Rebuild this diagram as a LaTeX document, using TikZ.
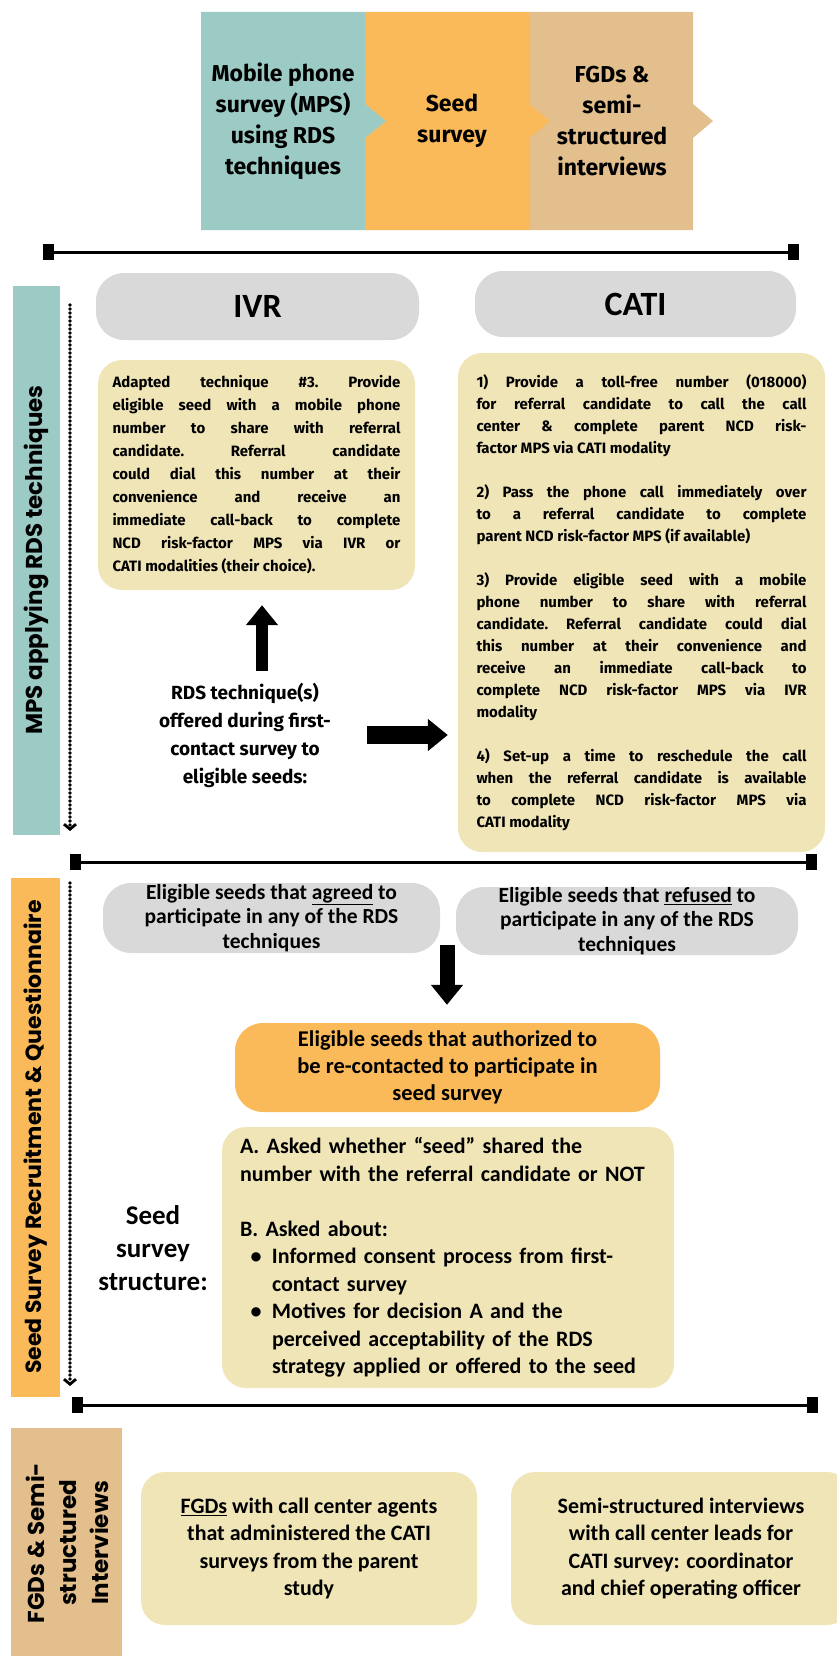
\documentclass[tikz,border=0pt]{standalone}
\usepackage{fontspec}
\setmainfont{Fira Sans}
\newfontfamily\condfont{Carlito}
\newfontfamily\barfont{Poppins}
\usetikzlibrary{arrows.meta}
\definecolor{mpsteal}{RGB}{155,203,196}
\definecolor{seedorange}{RGB}{251,186,90}
\definecolor{fgdtan}{RGB}{226,191,140}
\definecolor{boxyellow}{RGB}{239,229,183}
\definecolor{pillgray}{RGB}{217,217,217}
\newcommand\justblock[3]{\parbox{#1}{\bfseries\fontsize{15}{#2}\selectfont\frenchspacing\tolerance=10000 \hyphenpenalty=10000 #3}}
\begin{document}
\begin{tikzpicture}[x=1pt,y=-1pt,line join=round,
	pill/.style={fill=pillgray,rounded corners=28pt,inner sep=0pt,align=center,font=\condfont\bfseries\fontsize{21.5}{24.5}\selectfont},
	ybox/.style={fill=boxyellow,rounded corners=24pt,inner sep=0pt},
	ctext/.style={font=\condfont\bfseries\fontsize{22}{27.5}\selectfont},
	bartxt/.style={rotate=90,align=center,font=\barfont\bfseries\fontsize{#1}{32}\selectfont},
	sep/.style={line width=3pt,{Square[length=11pt,width=16pt]}-{Square[length=11pt,width=16pt]}},
	dotarr/.style={line width=3.8pt,line cap=round,dash pattern=on 0pt off 4pt,-{Straight Barb[length=5pt,width=12pt,line width=2.8pt]}},
	blkarr/.style={line width=#1,-{Triangle[width=31pt,length=20pt]}}]
	\useasboundingbox (0,0) rectangle (837,1656);
	% phases banner
	\fill[fgdtan] (529,12) rectangle (693,230) (693,104)--(713,121)--(693,138)--cycle;
	\fill[seedorange] (365,12) rectangle (529,230) (529,104)--(550,121)--(529,138)--cycle;
	\fill[mpsteal] (201,12) rectangle (365,230) (365,104)--(386,121)--(365,138)--cycle;
	\node[align=center,font=\bfseries\fontsize{23}{31}\selectfont] (mps) at (283,121) {Mobile phone\\survey (MPS)\\using RDS\\techniques};
	\node[align=center,font=\bfseries\fontsize{23}{31}\selectfont] (seed) at (452,121) {Seed\\survey};
	\node[align=center,font=\bfseries\fontsize{23}{31}\selectfont] (fgd) at (612,121) {FGDs \&\\semi-\\structured\\interviews};
	\coordinate (s1l) at (43,252); \coordinate (s1r) at (799,252);
	\coordinate (s2l) at (70,862); \coordinate (s2r) at (817,862);
	\coordinate (s3l) at (72,1405); \coordinate (s3r) at (818,1405);
	\draw[sep] (s1l)--(s1r); \draw[sep] (s2l)--(s2r); \draw[sep] (s3l)--(s3r);
	% side bars
	\fill[mpsteal] (13,286) rectangle (60,835);
	\fill[seedorange] (11,878) rectangle (60,1397);
	\fill[fgdtan] (11,1428) rectangle (122,1660);
	\node[bartxt=23] (mpsbar) at (36.5,560) {MPS applying RDS techniques};
	\node[bartxt=22] (seedbar) at (35.5,1137) {Seed Survey Recruitment \& Questionnaire};
	\node[bartxt=23] (fgdbar) at (67,1543) {FGDs \& Semi-\\structured\\Interviews};
	\coordinate (d1s) at (70,305); \coordinate (d1e) at (70,831);
	\coordinate (d2s) at (70,883); \coordinate (d2e) at (70,1386);
	\draw[dotarr] (d1s)--(d1e); \draw[dotarr] (d2s)--(d2e);
	% MPS section
	\node[pill,minimum width=323pt,minimum height=67pt,font=\condfont\bfseries\fontsize{34}{36}\selectfont] (ivr) at (257.5,306.5) {IVR};
	\node[pill,minimum width=321pt,minimum height=66pt,font=\condfont\bfseries\fontsize{34}{36}\selectfont] (cati) at (635.5,304) {CATI};
	\node[ybox,minimum width=317pt,minimum height=230pt] (ivrbox) at (256.5,475) {\justblock{288pt}{23}{Adapted technique \#3. Provide\linebreak eligible seed with a mobile phone\linebreak number to share with referral\linebreak candidate. Referral candidate\linebreak could dial this number at their\linebreak convenience and receive an\linebreak immediate call-back to complete\linebreak NCD risk-factor MPS via IVR or\linebreak CATI modalities (their choice).}};
	\node[ybox,minimum width=367pt,minimum height=499pt] (catibox) at (641.5,602.5) {\justblock{330pt}{22}{1) Provide a toll-free number (018000)\linebreak for referral candidate to call the call\linebreak center \& complete parent NCD risk-\linebreak factor MPS via CATI modality\par\vskip22pt
	2) Pass the phone call immediately over\linebreak to a referral candidate to complete\linebreak parent NCD risk-factor MPS (if available)\par\vskip22pt
	3) Provide eligible seed with a mobile\linebreak phone number to share with referral\linebreak candidate. Referral candidate could dial\linebreak this number at their convenience and\linebreak receive an immediate call-back to\linebreak complete NCD risk-factor MPS via IVR\linebreak modality\par\vskip22pt
	4) Set-up a time to reschedule the call\linebreak when the referral candidate is available\linebreak to complete NCD risk-factor MPS via\linebreak CATI modality}};
	\node[align=center,font=\bfseries\fontsize{19}{28}\selectfont] (rds) at (245,735) {RDS technique(s)\\offered during first-\\contact survey to\\eligible seeds:};
	\draw[blkarr=12pt,shorten <=8pt,shorten >=15pt] (262,0 |- rds.north)--(262,0 |- ivrbox.south);
	\draw[blkarr=18pt,shorten <=33pt,shorten >=10pt] (rds.east)--(rds.east -| catibox.west);
	% seed survey section
	\node[pill,minimum width=337pt,minimum height=70pt] (agreed) at (271.5,918) {Eligible seeds that \underline{agreed} to\\participate in any of the RDS\\techniques};
	\node[pill,minimum width=342pt,minimum height=68pt] (refused) at (627,921) {Eligible seeds that \underline{refused} to\\participate in any of the RDS\\techniques};
	\node[pill,fill=seedorange,minimum width=425pt,minimum height=89pt,font=\condfont\bfseries\fontsize{22.5}{27}\selectfont] (auth) at (447.5,1067.5) {Eligible seeds that authorized to\\be re-contacted to participate in\\seed survey};
	\coordinate (split) at (447,945);
	\draw[blkarr=15pt,shorten >=18pt] (split)--(split |- auth.north);
	\node[ybox,ctext,minimum width=452pt,minimum height=261pt,text width=416pt,align=left] (struct) at (448,1257.5) {A. Asked whether “seed” shared the\\number with the referral candidate or NOT\\[27.5pt]B. Asked about:\\\makebox[32pt]{\textbullet}Informed consent process from first-\\\hspace*{32pt}contact survey\\\makebox[32pt]{\textbullet}Motives for decision A and the\\\hspace*{32pt}perceived acceptability of the RDS\\\hspace*{32pt}strategy applied or offered to the seed};
	\node[align=center,font=\condfont\bfseries\fontsize{27}{33}\selectfont] (structlbl) at (153,1248) {Seed\\survey\\structure:};
	% interviews section
	\node[ybox,ctext,minimum width=336pt,minimum height=153pt,align=center] (fgdbox) at (309,1548.5) {\underline{FGDs} with call center agents\\that administered the CATI\\surveys from the parent\\study};
	\node[ybox,ctext,minimum width=340pt,minimum height=153pt,align=center] (semibox) at (681,1548.5) {Semi-structured interviews\\with call center leads for\\CATI survey: coordinator\\and chief operating officer};
\end{tikzpicture}
\end{document}
